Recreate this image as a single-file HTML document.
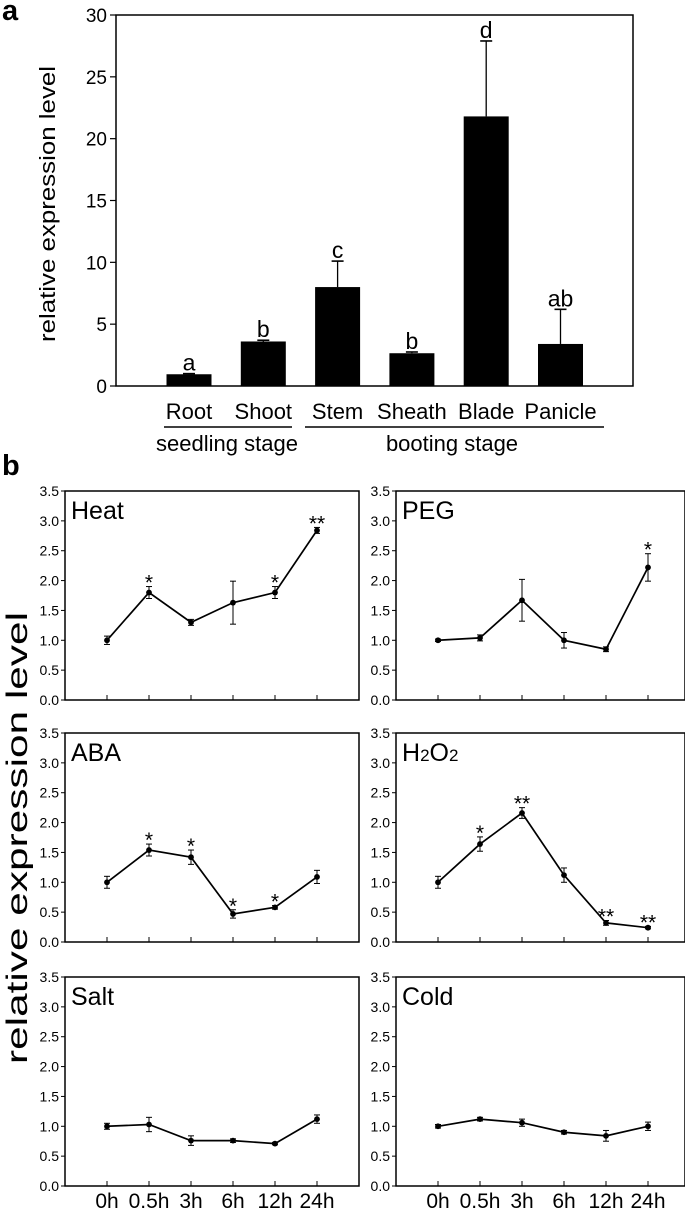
<!DOCTYPE html>
<html><head><meta charset="utf-8"><style>
html,body{margin:0;padding:0;background:#fff;}
svg{display:block;font-family:"Liberation Sans",Arial,sans-serif;}
</style></head><body>
<svg id="fig" width="685" height="1212" viewBox="0 0 685 1212" xmlns="http://www.w3.org/2000/svg"></svg>
<script>
// Panel a data
const aCategories = ["Root","Shoot","Stem","Sheath","Blade","Panicle"];
const aValues = [0.95, 3.6, 8.0, 2.65, 21.8, 3.4];
const aErrors = [0.05, 0.1, 2.1, 0.1, 6.1, 2.8];
const aLetters = ["a","b","c","b","d","ab"];
const aTicks = [0,5,10,15,20,25,30];
// Panel b data
const bTimes = ["0h","0.5h","3h","6h","12h","24h"];
const bTicks = ["0.0","0.5","1.0","1.5","2.0","2.5","3.0","3.5"];
const heatVals = [1.0,1.8,1.3,1.63,1.8,2.84];
const heatErr = [0.07,0.1,0.05,0.36,0.1,0.05];
const heatSig = ["","*","","","*","**"];
const pegVals = [1.0,1.04,1.67,1.0,0.85,2.22];
const pegErr = [0.02,0.05,0.35,0.13,0.04,0.23];
const pegSig = ["","","","","","*"];
const abaVals = [1.0,1.54,1.42,0.47,0.58,1.09];
const abaErr = [0.1,0.1,0.12,0.07,0.03,0.11];
const abaSig = ["","*","*","*","*",""];
const h2o2Vals = [1.0,1.64,2.16,1.12,0.32,0.24];
const h2o2Err = [0.1,0.12,0.09,0.12,0.04,0.02];
const h2o2Sig = ["","*","**","","**","**"];
const saltVals = [1.0,1.03,0.76,0.76,0.71,1.12];
const saltErr = [0.05,0.12,0.08,0.03,0.02,0.07];
const saltSig = ["","","","","",""];
const coldVals = [1.0,1.12,1.06,0.9,0.84,1.0];
const coldErr = [0.03,0.03,0.06,0.03,0.09,0.07];
const coldSig = ["","","","","",""];

const NS="http://www.w3.org/2000/svg";
const svg=document.getElementById('fig');
function mk(tag,attrs,parent,text){const e=document.createElementNS(NS,tag);for(const k in attrs)e.setAttribute(k,attrs[k]);if(text!==undefined)e.textContent=text;(parent||svg).appendChild(e);return e;}

// ---------- Panel a ----------
const aL=116,aR=633,aT=15,aB=386,aMax=30;
const ay=v=>aB-(v/aMax)*(aB-aT);
const ax=i=>189+i*74.3;
let t=mk('text',{x:2,y:20,'font-size':29,'font-weight':'bold'},svg,'a');

let box=mk('rect',{x:aL,y:aT,width:aR-aL,height:aB-aT,fill:'none',stroke:'#000','stroke-width':1.5});

aTicks.forEach(v=>{
  mk('line',{x1:aL-6,x2:aL,y1:ay(v),y2:ay(v),stroke:'#000','stroke-width':1.2});
  const tl=mk('text',{x:aL-9,y:ay(v)+7,'font-size':19,'text-anchor':'end'},svg,String(v));
  
});
t=mk('text',{x:0,y:0,'font-size':22,'text-anchor':'middle',textLength:276,lengthAdjust:'spacingAndGlyphs',transform:'translate(55,204) rotate(-90)'},svg,'relative expression level');

aCategories.forEach((c,i)=>{
  const cx=ax(i),w=45,top=ay(aValues[i]),et=ay(aValues[i]+aErrors[i]);
  mk('line',{x1:cx,x2:cx,y1:top,y2:et,stroke:'#000','stroke-width':1.3});
  mk('line',{x1:cx-6,x2:cx+6,y1:et,y2:et,stroke:'#000','stroke-width':1.6});
  const b=mk('rect',{x:cx-w/2,y:top,width:w,height:aB-top,fill:'#000'});
  
  const l=mk('text',{x:cx,y:et-3,'font-size':23,'text-anchor':'middle'},svg,aLetters[i]);
  
  const cl=mk('text',{x:cx,y:419,'font-size':22,'text-anchor':'middle'},svg,c);
  
});
let ln=mk('line',{x1:164,x2:292,y1:427,y2:427,stroke:'#000','stroke-width':1.6});

ln=mk('line',{x1:305,x2:604,y1:427,y2:427,stroke:'#000','stroke-width':1.6});

t=mk('text',{x:227,y:451,'font-size':22,'text-anchor':'middle'},svg,'seedling stage');

t=mk('text',{x:452,y:451,'font-size':22,'text-anchor':'middle'},svg,'booting stage');


// ---------- Panel b ----------
t=mk('text',{x:2,y:475,'font-size':29,'font-weight':'bold'},svg,'b');

t=mk('text',{x:0,y:0,'font-size':30,'text-anchor':'middle',textLength:452,lengthAdjust:'spacingAndGlyphs',transform:'translate(27,838) rotate(-90)'},svg,'relative expression level');


function panel(name,L,T,vals,errs,sig,showX,titleNode){
  const W=L<300?294:289,H=209,B=T+H,R=L+W;
  const g=mk('g',{});
  
  const y=v=>B-(v/3.5)*H;
  const x=i=>L+42+i*42;
  mk('rect',{x:L,y:T,width:W,height:H,fill:'none',stroke:'#000','stroke-width':1.5},g);
  bTicks.forEach(s=>{const v=parseFloat(s);
    mk('line',{x1:L-4,x2:L,y1:y(v),y2:y(v),stroke:'#000','stroke-width':1},g);
    const tl=mk('text',{x:L-6,y:y(v)+5,'font-size':14,'text-anchor':'end'},g,s);
    
  });
  bTimes.forEach((s,i)=>{
    mk('line',{x1:x(i),x2:x(i),y1:B-5,y2:B,stroke:'#000','stroke-width':1},g);
    if(showX){const xl=mk('text',{x:x(i),y:1208,'font-size':21,'text-anchor':'middle'},g,s);
      }
  });
  const tt=titleNode(g,L+6,T+28);
  
  const pts=vals.map((v,i)=>x(i)+','+y(v)).join(' ');
  const pl=mk('polyline',{points:pts,fill:'none',stroke:'#000','stroke-width':1.7},g);
  
  vals.forEach((v,i)=>{
    const t1=y(v+errs[i]),t2=y(v-errs[i]);
    mk('line',{x1:x(i),x2:x(i),y1:t1,y2:t2,stroke:'#000','stroke-width':1},g);
    mk('line',{x1:x(i)-3,x2:x(i)+3,y1:t1,y2:t1,stroke:'#000','stroke-width':1},g);
    mk('line',{x1:x(i)-3,x2:x(i)+3,y1:t2,y2:t2,stroke:'#000','stroke-width':1},g);
    const c=mk('circle',{cx:x(i),cy:y(v),r:2.9,fill:'#000'},g);
    
    if(sig[i]){const st=mk('text',{x:x(i),y:t1+3,'font-size':21,'text-anchor':'middle'},g,sig[i]);
      }
  });
}
const simpleTitle=s=>(g,x,y)=>mk('text',{x:x,y:y,'font-size':25},g,s);
panel('heat',65,491,heatVals,heatErr,heatSig,false,simpleTitle('Heat'));
panel('peg',396,491,pegVals,pegErr,pegSig,false,simpleTitle('PEG'));
panel('aba',65,733,abaVals,abaErr,abaSig,false,simpleTitle('ABA'));
panel('h2o2',396,733,h2o2Vals,h2o2Err,h2o2Sig,false,(g,x,y)=>{
  const e=mk('text',{x:x,y:y,'font-size':25},g);
  mk('tspan',{},e,'H');mk('tspan',{'font-size':17},e,'2');mk('tspan',{},e,'O');mk('tspan',{'font-size':17},e,'2');
  return e;});
panel('salt',65,977,saltVals,saltErr,saltSig,true,simpleTitle('Salt'));
panel('cold',396,977,coldVals,coldErr,coldSig,true,simpleTitle('Cold'));
</script>
</body></html>
